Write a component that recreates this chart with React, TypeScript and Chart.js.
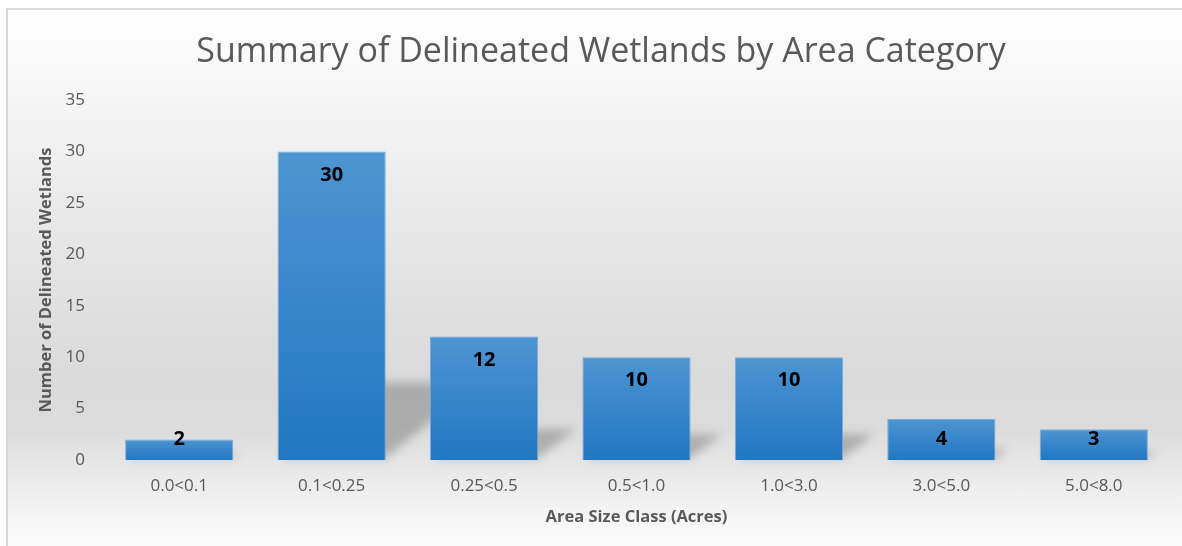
import React, { useEffect, useRef } from "react";
import { Chart, registerables } from "chart.js";

Chart.register(...registerables);

const categories = ["0.0<0.1", "0.1<0.25", "0.25<0.5", "0.5<1.0", "1.0<3.0", "3.0<5.0", "5.0<8.0"];
const counts = [2, 30, 12, 10, 10, 4, 3];
const yMin = 0;
const yMax = 35;
const yStep = 5;
const chartTitle = "Summary of Delineated Wetlands by Area Category";
const xTitle = "Area Size Class (Acres)";
const yTitle = "Number of Delineated Wetlands";

const shadowPlugin = {
  id: "barShadows",
  beforeDatasetsDraw(chart: any) {
    const ctx = chart.ctx;
    const meta = chart.getDatasetMeta(0);
    meta.data.forEach((el: any) => {
      const { x, y, base, width } = el.getProps(["x", "y", "base", "width"], true);
      const L = x - width / 2;
      const R = x + width / 2;
      const H = base - y;
      const h = 0.25 * H;
      const dx = 1.2 * h;
      ctx.save();
      ctx.filter = "blur(5px)";
      ctx.fillStyle = "rgba(60,60,60,0.3)";
      ctx.beginPath();
      ctx.moveTo(L + 4, base - 2);
      ctx.lineTo(R, base - 2);
      ctx.lineTo(R + dx, base - h);
      ctx.lineTo(L + dx, base - h);
      ctx.closePath();
      ctx.fill();
      ctx.restore();
    });
  },
};

const labelPlugin = {
  id: "barLabels",
  afterDatasetsDraw(chart: any) {
    const ctx = chart.ctx;
    const meta = chart.getDatasetMeta(0);
    const data = chart.data.datasets[0].data;
    ctx.save();
    ctx.font = "bold 20px 'Open Sans'";
    ctx.fillStyle = "#000000";
    ctx.textAlign = "center";
    ctx.textBaseline = "middle";
    meta.data.forEach((el: any, i: number) => {
      const { x, y, base } = el.getProps(["x", "y", "base"], true);
      const ly = Math.min(y + 23.5, base - 21);
      ctx.fillText(String(data[i]), x, ly);
    });
    ctx.restore();
  },
};

export default function App() {
  const ref = useRef<HTMLCanvasElement>(null);

  useEffect(() => {
    if (!ref.current) return;
    const chart = new Chart(ref.current, {
      type: "bar",
      data: {
        labels: categories,
        datasets: [
          {
            data: counts,
            backgroundColor: (c: any) => {
              const ch = c.chart;
              const ys = ch.scales && ch.scales.y;
              if (!ys || c.dataIndex === undefined) return "#3a86c8";
              const v = c.raw as number;
              const top = ys.getPixelForValue(v);
              const bot = ys.getPixelForValue(0);
              if (!isFinite(top) || !isFinite(bot) || top === bot) return "#3a86c8";
              const g = ch.ctx.createLinearGradient(0, top, 0, bot);
              g.addColorStop(0, "#4d95d2");
              g.addColorStop(1, "#2177c1");
              return g;
            },
            borderColor: "rgba(110,165,220,0.9)",
            borderWidth: 1,
            categoryPercentage: 0.71,
            barPercentage: 1,
          },
        ],
      },
      options: {
        responsive: false,
        animation: false,
        devicePixelRatio: 1,
        layout: { padding: { left: 32.1, right: 12, top: 8, bottom: 15.1 } },
        plugins: {
          legend: { display: false },
          tooltip: { enabled: false },
          title: {
            display: true,
            text: chartTitle,
            color: "#595959",
            font: { family: "'Open Sans'", size: 34, weight: "normal" },
            padding: { top: 23.6, bottom: 27.6 },
          },
        },
        scales: {
          x: {
            grid: { display: false, drawTicks: false },
            border: { display: false },
            ticks: {
              color: "#595959",
              font: { family: "'Open Sans'", size: 17 },
              padding: 15.8,
              maxRotation: 0,
              autoSkip: false,
            },
            title: {
              display: true,
              text: xTitle,
              color: "#595959",
              font: { family: "'Open Sans'", size: 16.5, weight: "bold" },
              padding: { top: 4, bottom: 4 },
            },
            afterFit: (scale: any) => {
              scale.height = 70.9;
            },
          },
          y: {
            min: yMin,
            max: yMax,
            grid: { display: false, drawTicks: false },
            border: { display: false },
            ticks: {
              stepSize: yStep,
              color: "#595959",
              font: { family: "'Open Sans'", size: 17 },
              padding: 18,
            },
            title: {
              display: true,
              text: yTitle,
              color: "#595959",
              font: { family: "'Open Sans'", size: 16.5, weight: "bold" },
              padding: { top: 4, bottom: 4 },
            },
            afterFit: (scale: any) => {
              scale.width = 103 - 32.1;
            },
          },
        },
      },
      plugins: [shadowPlugin, labelPlugin],
    });
    return () => chart.destroy();
  }, []);

  return (
    <div
      style={{
        position: "fixed",
        left: 0,
        top: 0,
        width: 1182,
        height: 546,
        overflow: "hidden",
        background: "#ffffff",
      }}
    >
      <div
        style={{
          position: "absolute",
          left: 6,
          top: 8,
          width: 1300,
          height: 700,
          border: "2px solid #d9d9d9",
          background:
            "linear-gradient(to bottom, #ffffff 0px, #f3f3f3 110px, #e4e4e4 250px, #dadada 370px, #dcdcdc 420px, #ebebeb 470px, #f6f6f6 510px, #fafafa 536px, #fafafa 700px)",
        }}
      />
      <canvas
        ref={ref}
        width={1182}
        height={546}
        style={{ position: "absolute", left: 0, top: 0, width: 1182, height: 546 }}
      />
    </div>
  );
}
